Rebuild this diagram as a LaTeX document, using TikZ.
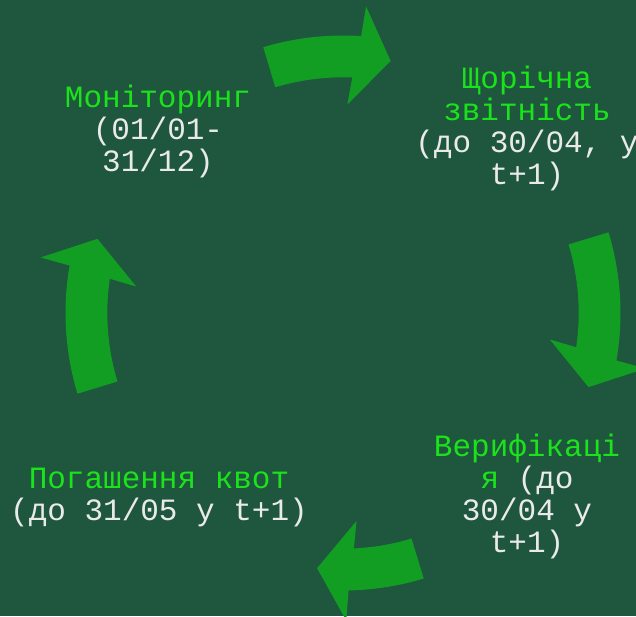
\documentclass[tikz,border=0pt]{standalone}
\usepackage{fontspec}
\newfontfamily\labelfont{Liberation Mono}
\definecolor{bg}{RGB}{30,87,61}
\definecolor{arrowgreen}{RGB}{18,158,34}
\definecolor{titlegreen}{RGB}{28,226,28}
\definecolor{bodytext}{RGB}{234,234,234}
\tikzset{
  lbl/.style={font=\labelfont\fontsize{31pt}{32pt}\selectfont, align=center,
              inner sep=0pt, text=bodytext, anchor=base},
  cyc/.style={fill=arrowgreen, draw=none}
}
\newcommand\ttl[1]{\textcolor{titlegreen}{#1}}
\newcommand\cycarrow[2]{%
  \fill[cyc] (#1:277.5pt) arc[start angle=#1, end angle={#2-0.75}, radius=277.5pt]
    -- ({#2-1.3}:307.5pt) -- ({#2-7.7}:256.5pt) -- ({#2+1.8}:208.5pt)
    -- ({#2+0.75}:235.7pt) arc[start angle={#2+0.75}, end angle=#1, radius=235.7pt] -- cycle;}
\begin{document}
\begin{tikzpicture}
\fill[bg] (0,0) rectangle (636pt,616pt);
\useasboundingbox (0,0) rectangle (636pt,616pt);
\clip (0,0) rectangle (636pt,616pt);
\node[lbl] (mon) at (158pt,444pt) {\ttl{Моніторинг}\\(01/01-\\31/12)};
\node[lbl] (rep) at (527pt,431pt) {\ttl{Щорічна}\\\ttl{звітність}\\(до 30/04, у\\t+1)};
\node[lbl] (ver) at (527pt,64pt) {\ttl{Верифікаці}\\\ttl{я} (до\\30/04 у\\t+1)};
\node[lbl] (sur) at (159pt,95.5pt) {\ttl{Погашення квот}\\(до 31/05 у t+1)};
\begin{scope}[shift={(343pt,303pt)}]
  \cycarrow{106.7}{87.0}
  \cycarrow{16.9}{-9.1}
  \cycarrow{-73.1}{-88.1}
  \cycarrow{196.9}{170.9}
\end{scope}
\end{tikzpicture}
\end{document}
